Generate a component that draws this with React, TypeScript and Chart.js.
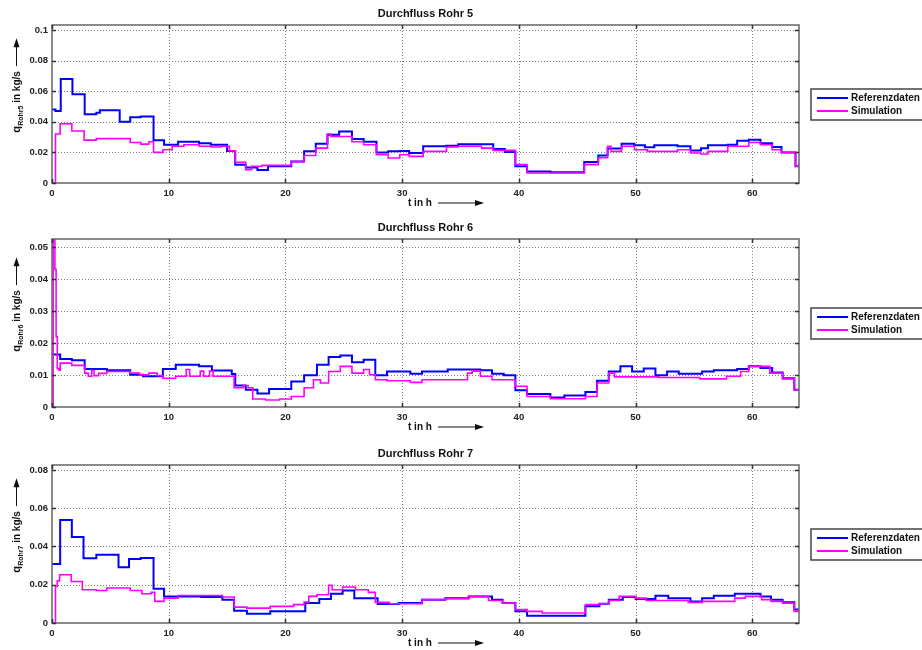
import React, { useEffect, useRef } from 'react';
import { Chart, registerables } from 'chart.js';

Chart.register(...registerables);

// ---------- data ----------
const xTicks = [0, 10, 20, 30, 40, 50, 60];
const xMax = 64;

const yTicks5 = [0, 0.02, 0.04, 0.06, 0.08, 0.1];
const yTicks6 = [0, 0.01, 0.02, 0.03, 0.04, 0.05];
const yTicks7 = [0, 0.02, 0.04, 0.06, 0.08];

const titles = ['Durchfluss Rohr 5', 'Durchfluss Rohr 6', 'Durchfluss Rohr 7'];
const yLabelSubs = ['Rohr5', 'Rohr6', 'Rohr7'];
const legendLabels = ['Referenzdaten', 'Simulation'];

// Rohr 5
const ref5T = [0, 0.3, 0.75, 1.75, 2.8, 3.8, 4.1, 5.8, 6.7, 7.6, 8.7, 9.6, 10.8, 12.6, 13.6, 15.0, 15.7, 16.6, 17.6, 18.5, 20.5, 21.6, 22.6, 23.6, 24.6, 25.7, 26.7, 27.8, 28.8, 29.8, 30.6, 31.8, 33.8, 34.8, 37.8, 38.8, 39.7, 40.7, 42.7, 45.6, 46.8, 47.6, 48.8, 49.9, 50.8, 51.6, 53.6, 54.7, 55.6, 56.2, 57.9, 58.7, 59.7, 60.7, 61.7, 62.5, 63.7, 64];
const ref5V = [0.048, 0.047, 0.068, 0.058, 0.045, 0.046, 0.0475, 0.040, 0.043, 0.0435, 0.028, 0.025, 0.027, 0.026, 0.025, 0.021, 0.012, 0.0102, 0.0085, 0.011, 0.014, 0.0207, 0.0257, 0.0315, 0.0337, 0.0287, 0.027, 0.020, 0.0207, 0.021, 0.0196, 0.024, 0.0243, 0.0254, 0.0222, 0.0202, 0.0109, 0.0076, 0.007, 0.0137, 0.018, 0.0226, 0.0257, 0.0246, 0.0233, 0.0246, 0.024, 0.0213, 0.0228, 0.0246, 0.025, 0.0276, 0.0283, 0.026, 0.0235, 0.020, 0.011, 0.013];
const sim5T = [0, 0.3, 0.7, 1.7, 2.75, 3.8, 5.0, 6.7, 7.6, 8.3, 8.7, 9.5, 10.3, 11.3, 12.6, 13.6, 14.5, 15.2, 15.7, 16.6, 17.1, 18.0, 20.5, 21.6, 22.6, 23.6, 23.9, 25.7, 26.7, 27.8, 28.8, 29.8, 30.6, 31.8, 33.8, 34.8, 36.8, 37.8, 39.7, 40.7, 45.6, 46.8, 47.6, 47.9, 48.8, 49.9, 51.0, 53.6, 54.7, 55.6, 56.2, 57.9, 59.7, 60.7, 61.7, 62.5, 63.7, 64];
const sim5V = [0, 0.032, 0.0387, 0.034, 0.028, 0.029, 0.029, 0.0265, 0.0254, 0.027, 0.020, 0.0217, 0.024, 0.025, 0.024, 0.0235, 0.024, 0.021, 0.0135, 0.0087, 0.011, 0.0115, 0.014, 0.018, 0.0228, 0.032, 0.0304, 0.027, 0.025, 0.0185, 0.0163, 0.0185, 0.0174, 0.0207, 0.0235, 0.024, 0.0228, 0.0213, 0.012, 0.0065, 0.012, 0.0165, 0.024, 0.0207, 0.024, 0.0217, 0.0207, 0.0217, 0.0196, 0.019, 0.0207, 0.024, 0.0265, 0.025, 0.0217, 0.020, 0.011, 0.013];

// Rohr 6
const ref6T = [0, 0.7, 1.7, 2.8, 4.7, 6.7, 7.8, 9.5, 10.6, 12.6, 13.7, 15.4, 15.7, 16.6, 17.6, 18.6, 20.5, 21.6, 22.7, 23.7, 24.7, 25.7, 26.7, 27.7, 28.7, 30.7, 31.7, 33.9, 36.7, 37.7, 38.7, 39.7, 40.7, 42.7, 43.9, 45.7, 46.7, 47.7, 48.7, 49.7, 50.7, 51.7, 52.7, 53.7, 55.7, 56.7, 58.7, 59.7, 60.7, 61.7, 62.6, 63.6, 64];
const ref6V = [0.0164, 0.015, 0.0146, 0.0119, 0.0115, 0.0101, 0.0096, 0.0119, 0.0132, 0.0127, 0.0114, 0.0103, 0.0067, 0.0054, 0.0042, 0.0056, 0.008, 0.0099, 0.0132, 0.0156, 0.0161, 0.014, 0.0148, 0.0099, 0.0111, 0.0104, 0.0111, 0.0117, 0.0115, 0.0104, 0.0099, 0.0052, 0.0041, 0.003, 0.0036, 0.0047, 0.0082, 0.0111, 0.0127, 0.0111, 0.012, 0.0099, 0.0111, 0.0104, 0.0111, 0.0115, 0.0119, 0.0127, 0.0122, 0.0108, 0.009, 0.0054, 0.0054];
const sim6T = [0, 0.1, 0.25, 0.35, 0.45, 0.6, 0.7, 1.7, 2.8, 3.1, 3.4, 3.6, 4.0, 4.7, 6.7, 7.5, 8.3, 9.0, 9.5, 10.6, 11.5, 11.8, 12.7, 13.0, 13.5, 13.8, 15.6, 16.4, 16.8, 17.2, 18.3, 19.5, 20.5, 21.6, 22.4, 23.0, 23.7, 24.7, 25.7, 26.7, 27.2, 27.7, 28.7, 30.7, 31.7, 35.6, 36.0, 36.7, 37.7, 39.7, 40.7, 42.7, 45.7, 46.7, 47.7, 48.2, 52.0, 55.5, 57.8, 59.0, 59.7, 61.5, 62.6, 63.6, 64];
const sim6V = [0, 0.056, 0.043, 0.022, 0.012, 0.0115, 0.0137, 0.013, 0.0106, 0.0096, 0.0115, 0.0098, 0.0105, 0.0111, 0.0106, 0.0101, 0.0106, 0.0098, 0.009, 0.0096, 0.0117, 0.0096, 0.0112, 0.0096, 0.0112, 0.0096, 0.006, 0.0067, 0.006, 0.0025, 0.0022, 0.0025, 0.0033, 0.006, 0.0085, 0.0075, 0.0111, 0.0127, 0.0106, 0.0117, 0.0101, 0.0085, 0.0082, 0.0077, 0.0085, 0.0106, 0.0112, 0.0096, 0.0085, 0.0065, 0.0033, 0.0026, 0.0033, 0.0075, 0.0106, 0.0094, 0.0092, 0.0088, 0.0096, 0.0111, 0.0127, 0.0106, 0.0088, 0.0054, 0.0054];

// Rohr 7
const ref7T = [0, 0.7, 1.7, 2.7, 3.8, 5.7, 6.6, 7.6, 8.7, 9.6, 12.8, 14.6, 15.6, 16.7, 18.7, 21.7, 22.9, 23.9, 24.9, 25.9, 27.9, 29.7, 31.7, 33.7, 35.7, 37.7, 38.6, 39.7, 40.7, 45.7, 46.9, 47.7, 48.9, 50.0, 51.7, 52.8, 54.7, 55.7, 56.7, 58.5, 60.7, 61.6, 62.6, 63.6, 64];
const ref7V = [0.0308, 0.0539, 0.0449, 0.0339, 0.0357, 0.0292, 0.0334, 0.034, 0.0179, 0.0139, 0.0136, 0.0122, 0.0064, 0.0049, 0.0061, 0.0104, 0.0125, 0.0153, 0.017, 0.013, 0.0099, 0.0104, 0.0122, 0.013, 0.0139, 0.0122, 0.0104, 0.0061, 0.0038, 0.0087, 0.01, 0.0122, 0.0136, 0.0125, 0.0143, 0.013, 0.0113, 0.013, 0.0143, 0.0153, 0.0139, 0.0122, 0.0108, 0.007, 0.0075];
const sim7T = [0, 0.3, 0.45, 0.65, 1.65, 2.6, 3.8, 4.7, 6.7, 7.7, 8.5, 8.8, 9.6, 10.8, 14.6, 15.6, 16.7, 18.7, 20.7, 21.6, 22.0, 22.7, 23.7, 24.0, 24.9, 26.0, 27.1, 27.7, 28.9, 31.7, 33.7, 35.7, 37.4, 38.6, 39.7, 40.7, 42.0, 45.7, 46.9, 47.7, 48.6, 50.0, 50.9, 54.5, 55.7, 58.5, 59.4, 60.8, 61.6, 62.6, 63.6, 64];
const sim7V = [0, 0.0191, 0.022, 0.0252, 0.0217, 0.0174, 0.017, 0.0183, 0.017, 0.0153, 0.016, 0.0113, 0.013, 0.0144, 0.0136, 0.0083, 0.0078, 0.0087, 0.0096, 0.011, 0.0139, 0.0148, 0.0197, 0.0174, 0.0188, 0.0174, 0.016, 0.0108, 0.0101, 0.0122, 0.0127, 0.0139, 0.0118, 0.0104, 0.007, 0.0061, 0.0052, 0.0096, 0.0101, 0.0118, 0.0139, 0.013, 0.0118, 0.0108, 0.0113, 0.013, 0.0139, 0.0122, 0.0113, 0.0104, 0.0061, 0.008];

// ---------- layout ----------
const panels = [
  { top: 0, height: 215, padTop: 25, padBottom: 12, yMax: 0.1033, yTicks: yTicks5, refT: ref5T, refV: ref5V, simT: sim5T, simV: sim5V, title: titles[0], sub: yLabelSubs[0] },
  { top: 215, height: 220, padTop: 24, padBottom: 8, yMax: 0.0525, yTicks: yTicks6, refT: ref6T, refV: ref6V, simT: sim6T, simV: sim6V, title: titles[1], sub: yLabelSubs[1] },
  { top: 435, height: 215, padTop: 30, padBottom: 7, yMax: 0.0826, yTicks: yTicks7, refT: ref7T, refV: ref7V, simT: sim7T, simV: sim7V, title: titles[2], sub: yLabelSubs[2] },
];

const FONT = '"Liberation Sans", Arial, sans-serif';
const BLUE = '#0000ff';
const MAGENTA = '#ff00ff';

function pts(T: number[], V: number[]) {
  return T.map((t, i) => ({ x: t, y: V[i] }));
}

function arrow(ctx: CanvasRenderingContext2D, x0: number, y0: number, x1: number, y1: number) {
  ctx.beginPath();
  ctx.moveTo(x0, y0);
  ctx.lineTo(x1, y1);
  ctx.stroke();
  const ang = Math.atan2(y1 - y0, x1 - x0);
  ctx.beginPath();
  ctx.moveTo(x1 + Math.cos(ang) * 2, y1 + Math.sin(ang) * 2);
  ctx.lineTo(x1 - Math.cos(ang) * 7 - Math.sin(ang) * 3, y1 - Math.sin(ang) * 7 + Math.cos(ang) * 3);
  ctx.lineTo(x1 - Math.cos(ang) * 7 + Math.sin(ang) * 3, y1 - Math.sin(ang) * 7 - Math.cos(ang) * 3);
  ctx.closePath();
  ctx.fill();
}

const figPlugin = {
  id: 'fig',
  beforeDatasetsDraw(chart: any, _a: any, opts: any) {
    const { ctx, chartArea: a, scales } = chart;
    const x = scales.x;
    const y = scales.y;
    ctx.save();
    ctx.strokeStyle = '#7d7d7d';
    ctx.lineWidth = 1;
    ctx.setLineDash([1, 2]);
    xTicks.forEach((v) => {
      if (v <= 0) return;
      const px = Math.round(x.getPixelForValue(v)) + 0.5;
      ctx.beginPath();
      ctx.moveTo(px, a.top);
      ctx.lineTo(px, a.bottom);
      ctx.stroke();
    });
    (opts.yTicks as number[]).forEach((v) => {
      if (v <= 0) return;
      const py = Math.round(y.getPixelForValue(v)) + 0.5;
      ctx.beginPath();
      ctx.moveTo(a.left, py);
      ctx.lineTo(a.right, py);
      ctx.stroke();
    });
    ctx.restore();
  },
  afterDatasetsDraw(chart: any, _a: any, opts: any) {
    const { ctx, chartArea: a, scales } = chart;
    const x = scales.x;
    const y = scales.y;
    ctx.save();
    // frame
    ctx.strokeStyle = '#666';
    ctx.lineWidth = 1.5;
    ctx.strokeRect(a.left, a.top, a.right - a.left, a.bottom - a.top);
    // tick marks (inside)
    ctx.strokeStyle = '#333';
    ctx.lineWidth = 1.5;
    xTicks.forEach((v) => {
      const px = Math.round(x.getPixelForValue(v)) + 0.5;
      ctx.beginPath();
      ctx.moveTo(px, a.bottom);
      ctx.lineTo(px, a.bottom - 4);
      ctx.moveTo(px, a.top);
      ctx.lineTo(px, a.top + 4);
      ctx.stroke();
    });
    (opts.yTicks as number[]).forEach((v) => {
      const py = Math.round(y.getPixelForValue(v)) + 0.5;
      ctx.beginPath();
      ctx.moveTo(a.left, py);
      ctx.lineTo(a.left + 4, py);
      ctx.moveTo(a.right, py);
      ctx.lineTo(a.right - 4, py);
      ctx.stroke();
    });

    const cx = (a.left + a.right) / 2;
    const cy = (a.top + a.bottom) / 2;

    // title
    ctx.fillStyle = '#111';
    ctx.font = `bold 11px ${FONT}`;
    ctx.textAlign = 'center';
    ctx.textBaseline = 'middle';
    ctx.fillText(opts.title, cx, a.top - 11);

    // x label
    ctx.font = `bold 10px ${FONT}`;
    ctx.textAlign = 'left';
    const xl = cx - 17.5;
    const xy = a.bottom + 20;
    ctx.fillText('t in h', xl, xy);
    ctx.strokeStyle = '#111';
    ctx.lineWidth = 1;
    arrow(ctx, xl + 30, xy, xl + 74, xy);

    // y label (rotated)
    const qW = 7, subFont = `bold 7px ${FONT}`, mainFont = `bold 10px ${FONT}`;
    ctx.font = subFont;
    const subW = ctx.measureText(opts.sub).width;
    ctx.font = mainFont;
    const inW = ctx.measureText(' in kg/s').width;
    const arrowLen = 26;
    const total = qW + subW + inW + 4 + arrowLen;
    const startY = cy - 17 + total / 2;
    ctx.translate(20, startY);
    ctx.rotate(-Math.PI / 2);
    ctx.textAlign = 'left';
    ctx.textBaseline = 'alphabetic';
    ctx.font = `bold 11px ${FONT}`;
    ctx.fillText('q', 0, 0);
    ctx.font = subFont;
    ctx.fillText(opts.sub, qW, 3);
    ctx.font = mainFont;
    ctx.fillText(' in kg/s', qW + subW, 0);
    const ax0 = qW + subW + inW + 5;
    arrow(ctx, ax0, -3.5, ax0 + arrowLen, -3.5);
    ctx.setTransform(1, 0, 0, 1, 0, 0);

    // legend
    const lt = cy - 15;
    ctx.fillStyle = '#fff';
    ctx.fillRect(811, lt, 130, 31);
    ctx.strokeStyle = '#444';
    ctx.lineWidth = 1.5;
    ctx.strokeRect(811, lt, 130, 31);
    const rows = [
      { c: BLUE, t: legendLabels[0], y: lt + 9 },
      { c: MAGENTA, t: legendLabels[1], y: lt + 22 },
    ];
    ctx.font = `bold 10px ${FONT}`;
    ctx.textBaseline = 'middle';
    ctx.textAlign = 'left';
    rows.forEach((r) => {
      ctx.strokeStyle = r.c;
      ctx.lineWidth = 2;
      ctx.beginPath();
      ctx.moveTo(817, r.y);
      ctx.lineTo(848, r.y);
      ctx.stroke();
      ctx.fillStyle = '#111';
      ctx.fillText(r.t, 851, r.y);
    });
    ctx.restore();
  },
};

function Panel({ p }: { p: any }) {
  const ref = useRef<HTMLCanvasElement | null>(null);
  useEffect(() => {
    if (!ref.current) return;
    const tickFont = { family: FONT, size: 9.5, weight: 'bold' as const };
    const chart = new Chart(ref.current, {
      type: 'line',
      data: {
        datasets: [
          {
            label: legendLabels[0],
            data: pts(p.refT, p.refV),
            borderColor: BLUE,
            borderWidth: 2,
            pointRadius: 0,
            stepped: true,
            fill: false,
            order: 1,
          },
          {
            label: legendLabels[1],
            data: pts(p.simT, p.simV),
            borderColor: MAGENTA,
            borderWidth: 1.6,
            pointRadius: 0,
            stepped: true,
            fill: false,
            order: 0,
          },
        ],
      },
      options: {
        responsive: false,
        animation: false,
        events: [],
        layout: { padding: { left: 8, right: 123, top: p.padTop, bottom: p.padBottom } },
        plugins: {
          legend: { display: false },
          tooltip: { enabled: false },
          title: { display: false },
          fig: { title: p.title, sub: p.sub, yTicks: p.yTicks },
        } as any,
        scales: {
          x: {
            type: 'linear',
            min: 0,
            max: xMax,
            grid: { display: false, drawTicks: false },
            border: { display: false },
            afterBuildTicks: (s: any) => {
              s.ticks = xTicks.map((v) => ({ value: v }));
            },
            afterFit: (s: any) => {
              s.height = 20;
            },
            ticks: {
              autoSkip: false,
              maxRotation: 0,
              padding: 5,
              font: tickFont,
              color: '#222',
              callback: (v: any) => String(v),
            },
          },
          y: {
            type: 'linear',
            min: 0,
            max: p.yMax,
            grid: { display: false, drawTicks: false },
            border: { display: false },
            afterBuildTicks: (s: any) => {
              s.ticks = (p.yTicks as number[]).map((v) => ({ value: v }));
            },
            afterFit: (s: any) => {
              s.width = 44;
            },
            ticks: {
              autoSkip: false,
              padding: 4,
              font: tickFont,
              color: '#222',
              callback: (v: any) => String(v),
            },
          },
        },
      },
      plugins: [figPlugin],
    });
    return () => chart.destroy();
  }, [p]);
  return (
    <canvas
      ref={ref}
      width={922}
      height={p.height}
      style={{ position: 'absolute', left: 0, top: p.top, width: 922, height: p.height, display: 'block' }}
    />
  );
}

export default function App() {
  return (
    <div style={{ position: 'absolute', left: 0, top: 0, width: 922, height: 650, background: '#fff', overflow: 'hidden' }}>
      {panels.map((p, i) => (
        <Panel key={i} p={p} />
      ))}
    </div>
  );
}
